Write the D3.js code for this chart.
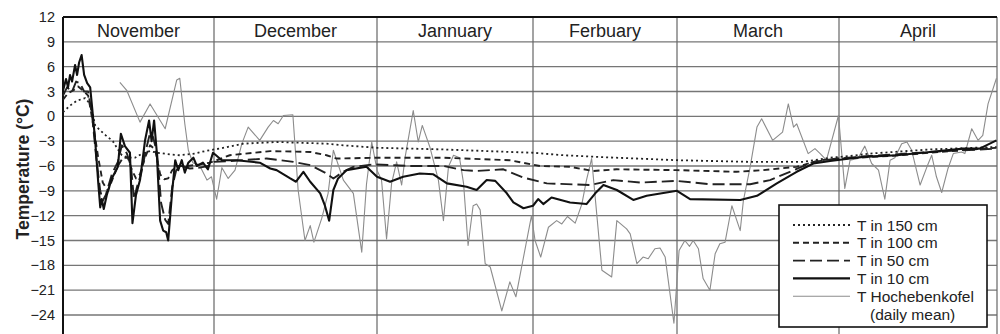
<!DOCTYPE html>
<html>
<head>
<meta charset="utf-8">
<script src="https://cdn.jsdelivr.net/npm/d3@7"></script>
<style>
  html, body { margin: 0; padding: 0; background: #fff; }
  svg { display: block; font-family: "Liberation Sans", Arial, sans-serif; }
</style>
</head>
<body>
<svg id="chart" width="1000" height="334"></svg>
<script>
// Months shown along the top, with the day offset (from 1 November) where each begins
const months = ["November", "December", "Jannuary", "Ferbuary", "March", "April"];
const monthStart = [0, 30, 61, 92, 120, 151, 181];
const yTicks = [12, 9, 6, 3, 0, -3, -6, -9, -12, -15, -18, -21, -24];

// Soil temperatures [day since 1 Nov, °C]
const t150 = [[0,0.5],[1.4,1.3],[2.8,1.9],[4.4,2.2],[5.4,1.5],[6.4,-1.1],[7.4,-1.7],[8.5,-2.3],[9.9,-3],[10.9,-4],[11.7,-4.7],[12.9,-5],[14.3,-5],[15.7,-4.5],[17.3,-4.2],[18.7,-4.4],[21.3,-4.6],[23.2,-4.7],[26.2,-4.5],[28.2,-4.2],[30.0,-4.0],
  [31.1,-3.9],[35.6,-3.3],[41.9,-3.1],[51.4,-3.3],[54.6,-3.5],[61.0,-3.8],[74.2,-4.0],[87.4,-4.3],[92.0,-4.4],[97.9,-4.7],[104.4,-4.9],[120,-5.3],[134.0,-5.5],[144.2,-5.5],[149.3,-5.0],[153.1,-4.8],[156.9,-4.5],[168.3,-4.0],[180.9,-3.7]];

const t100 = [[0,2.0],[1.0,2.8],[2.2,3.2],[3.0,3.6],[4.2,3.0],[5.0,2.5],[6.0,-1],[7.0,-5],[7.9,-8],[8.9,-9],[9.9,-7.5],[10.9,-6],[11.9,-5],[12.9,-5],[13.7,-6.5],[14.5,-7.5],[15.3,-7],[16.3,-5],[17.3,-3.5],[18.3,-4],[19.3,-7],[20.1,-7.6],[20.9,-7.5],[21.7,-6.5],[22.8,-6],[24.8,-6],[27.2,-5.8],[29.2,-5.6],
  [33.0,-4.7],[40.7,-4.2],[48.3,-4.3],[51.4,-4.7],[53.3,-5.1],[61.0,-5.0],[74.2,-5.0],[87.4,-5.3],[93.4,-6.0],[99.2,-6.1],[103.7,-6.6],[108.3,-6.4],[120,-6.5],[131.4,-6.7],[136.5,-6.5],[142.9,-6.1],[147.4,-5.3],[151.8,-5.1],[162.6,-4.7],[174.0,-4.1],[180.9,-3.8]];

const t50 = [[0,2.5],[0.8,3.5],[1.8,3.0],[2.6,4.2],[3.4,4.0],[4.2,3.0],[5.0,3.0],[5.8,0],[6.6,-5],[7.4,-9],[7.9,-10.2],[8.5,-9.5],[9.7,-7],[10.9,-5.5],[11.7,-3.5],[12.7,-4.5],[13.5,-6],[14.1,-10],[14.7,-8.5],[15.5,-7],[16.5,-4],[17.3,-2],[17.9,-2.5],[18.7,-4.5],[19.5,-10.5],[20.3,-12.5],[20.9,-13],[21.7,-8.5],[22.5,-6.5],[23.6,-6],[25.2,-6.3],[27.2,-6.2],[28.8,-6],[30.0,-5.5],
  [33.0,-5.4],[40.0,-5.1],[45.1,-5.5],[48.3,-5.9],[51.1,-6.8],[52.7,-7.5],[54.6,-6.7],[56.5,-6.1],[60.3,-5.8],[67.6,-6.0],[74.2,-6.0],[78.2,-6.5],[80.8,-6.6],[86.1,-6.4],[90.1,-7.4],[93.4,-7.9],[94.7,-8.1],[103.1,-8.3],[107.6,-7.7],[112.8,-8.0],[120,-7.8],[126.3,-8.2],[134.0,-8.2],[137.8,-7.7],[141.6,-6.7],[146.1,-5.5],[150.6,-5.1],[156.9,-4.8],[168.3,-4.3],[180.9,-3.9]];

const t10 = [[0,3.1],[0.6,4.5],[1.0,3.5],[1.4,5.0],[1.8,4.2],[2.4,6.2],[2.8,5.0],[3.2,6.5],[3.7,7.4],[4.2,5.0],[4.8,4.0],[5.4,3.5],[5.8,1.0],[6.4,-3],[7.0,-8],[7.4,-11],[7.7,-10],[8.1,-11.2],[8.7,-9.5],[9.7,-7.5],[10.9,-6.1],[11.5,-2.1],[12.3,-3.6],[13.3,-4.4],[13.8,-12.9],[14.5,-9.5],[15.3,-7.7],[16.3,-2.9],[17.1,-0.5],[17.6,-3],[18.1,-0.5],[18.6,-4.1],[19.3,-12.6],[19.9,-13.8],[20.5,-14],[20.9,-15],[21.7,-9],[22.3,-5.3],[22.9,-6.5],[23.6,-5.3],[24.2,-6.8],[24.9,-5.6],[25.9,-5.0],[26.6,-6],[27.8,-5.6],[28.8,-6.4],[29.8,-4.4],
  [31.5,-5.3],[34.3,-5.3],[38.7,-5.6],[40.7,-6.3],[41.9,-6.5],[44.5,-7.5],[45.6,-7.9],[47.0,-6.7],[48.3,-7.9],[50.2,-9.3],[51.1,-10.8],[51.9,-12.6],[52.7,-8.9],[53.6,-7.5],[55.2,-6.5],[59.0,-6.1],[61.0,-7.3],[63.6,-7.9],[66.2,-7.3],[69.5,-6.9],[72.2,-7.0],[74.9,-8.1],[78.8,-8.5],[80.8,-8.9],[82.8,-7.7],[84.5,-7.8],[86.8,-9.3],[88.1,-10.4],[90.1,-11.1],[92.0,-10.8],
  [93.0,-10],[94.0,-10.6],[95.6,-9.8],[99.2,-10.4],[102.4,-10.6],[104.1,-9.3],[105.7,-8.3],[108.3,-8.9],[111.5,-10.1],[114.1,-9.6],[120,-9],[122.5,-10],[132.1,-10.1],[135.3,-9.6],[139.1,-8.1],[142.9,-6.7],[146.1,-5.7],[149.3,-5.4],[153.1,-5.1],[155.6,-4.9],[162.0,-4.7],[168.3,-4.3],[174.6,-3.9],[177.7,-3.9],[180.9,-2.9]];

// Air temperature at Hochebenkofel, daily mean [day since 1 Nov, °C]
const tAir = [[11.3,4.1],[12.7,3.1],[15.3,-0.7],[17.3,1.5],[20.3,-1.5],[22.6,4.4],[23.2,4.6],[24.2,-0.9],[24.9,-4.1],[25.8,-5.6],[27.2,-6.0],[28.6,-7.7],[29.5,-7.3],
  [30.5,-10],[31.5,-6.2],[32.7,-7.5],[34.0,-6.5],[35.3,-3.3],[36.5,-1.3],[38.7,-2.9],[40.3,-1.3],[41.3,-0.5],[42.2,-0.9],[43.2,0.1],[45.0,0.2],[46.0,-8.9],[47.3,-15],[48.3,-13.2],[49.0,-15.2],[50.5,-12.3],[51.7,-9.3],[52.7,-4.1],[54.6,-7.7],[56.5,-9.3],[58.1,-16.4],[59.0,-8.2],[60.0,-3.1],
  [61.0,-6.5],[61.9,-7.7],[62.9,-14.8],[63.9,-8.1],[64.9,-5.5],[65.9,-8.3],[66.6,-4.9],[68.2,0.7],[69.2,-3.1],[70.0,-1.1],[71.5,-3.7],[73.2,-7.7],[74.2,-12.6],[75.2,-6.1],[76.2,-4.7],[77.4,-5],[78.2,-8.1],[79.1,-15.6],[80.1,-10.8],[80.8,-10.6],[81.5,-11.3],[82.5,-17.8],[83.5,-18.2],[85.8,-23.5],[87.4,-20],[88.6,-21.8],[91.7,-12],
  [92.4,-15],[93.5,-17],[95.0,-13.4],[96.6,-12.6],[97.6,-13],[98.7,-12.1],[100.2,-12.9],[101.5,-10.6],[102.4,-7.7],[103.4,-5.1],[105.4,-18.6],[107.3,-19.4],[108.3,-12.6],[110.2,-13.6],[110.9,-14.2],[112.2,-17.8],[113.4,-17],[114.4,-17.2],[115.7,-16],[116.7,-15.9],[117.7,-17],[119.4,-25],
  [120.4,-16.2],[121.5,-15],[122.4,-15.7],[123.1,-15],[124.1,-16],[125.0,-19.6],[126.3,-21],[127.3,-16.6],[128.2,-15.4],[129.2,-15.2],[130.5,-10.8],[132.1,-13.8],[132.7,-10.2],[134.0,-6.1],[135.3,-1.3],[136.2,-0.3],[138.3,-2.9],[140.2,-1.9],[141.3,1.5],[142.3,-1.3],[142.9,-0.9],[145.1,-4.5],[146.4,-3.9],[147.4,-4.5],[148.6,-5.3],[150.9,0.1],
  [152.1,-8.7],[153.1,-5.3],[154.6,-5.1],[155.9,-3.6],[157.2,-5.7],[158.5,-6.5],[159.7,-10],[160.7,-5.3],[161.6,-5.0],[162.9,-3.3],[163.9,-3.1],[164.8,-4.1],[166.4,-8.3],[167.7,-6.1],[168.6,-4.7],[169.5,-7.3],[170.5,-9.2],[171.7,-6.3],[172.7,-4.5],[174.3,-4.3],[174.9,-4.5],[176.2,-1.5],[177.4,-2.9],[178.3,-2.3],[179.3,1.5],[180.9,4.6]];

const seriesNames = ["T in 150 cm", "T in 100 cm", "T in 50 cm", "T in 10 cm", "T Hochebenkofel"];

// ---- layout ----
const svg = d3.select("#chart");
const plotLeft = 63, plotRight = 997, plotTop = 17;
const x = d3.scaleLinear()
  .domain(monthStart)
  .range([plotLeft, 214, 377, 533, 677, 839, plotRight]);
const y = d3.scaleLinear().domain([-24, 12]).range([315, plotTop]);
const yBottom = y(-27);

// horizontal grid
svg.append("g").selectAll("line")
  .data(yTicks.filter(v => v !== 12).concat([-27]))
  .join("line")
  .attr("x1", plotLeft).attr("x2", plotRight)
  .attr("y1", d => y(d)).attr("y2", d => y(d))
  .attr("stroke", "#767676").attr("stroke-width", 1.3);

// month dividers and right frame edge
svg.append("g").selectAll("line")
  .data(monthStart.slice(1))
  .join("line")
  .attr("x1", d => x(d)).attr("x2", d => x(d))
  .attr("y1", plotTop).attr("y2", yBottom)
  .attr("stroke", "#666").attr("stroke-width", 1.2);

// top border and left axis
svg.append("line").attr("x1", plotLeft).attr("x2", plotRight).attr("y1", plotTop).attr("y2", plotTop)
  .attr("stroke", "#111").attr("stroke-width", 2);
svg.append("line").attr("x1", plotLeft).attr("x2", plotLeft).attr("y1", plotTop).attr("y2", yBottom)
  .attr("stroke", "#111").attr("stroke-width", 2);

// y axis tick labels
const yAxis = d3.axisLeft(y).tickValues(yTicks).tickSize(0).tickPadding(8);
const ya = svg.append("g").attr("transform", `translate(${plotLeft},0)`).call(yAxis);
ya.select(".domain").remove();
ya.selectAll("text").attr("font-size", 14.5).attr("fill", "#222")
  .attr("font-family", "'Liberation Sans', Arial, sans-serif");

// y axis title
svg.append("text")
  .attr("transform", `translate(29,169) rotate(-90)`)
  .attr("text-anchor", "middle")
  .attr("font-size", 17.5).attr("font-weight", "bold").attr("fill", "#222")
  .text("Temperature (°C)");

// month labels
svg.append("g").selectAll("text")
  .data(months)
  .join("text")
  .attr("x", (d, i) => (x(monthStart[i]) + x(monthStart[i + 1])) / 2)
  .attr("y", 37)
  .attr("text-anchor", "middle")
  .attr("font-size", 18).attr("fill", "#222")
  .text(d => d);

// series
const line = d3.line().x(d => x(d[0])).y(d => y(d[1]));
const styles = [
  { data: t150, color: "#222", width: 1.8, dash: "2,3" },
  { data: t100, color: "#222", width: 1.9, dash: "6,4" },
  { data: t50,  color: "#222", width: 1.9, dash: "12,5" },
  { data: t10,  color: "#111", width: 2.1, dash: null },
  { data: tAir, color: "#8c8c8c", width: 1.1, dash: null }
];
const drawOrder = [4, 0, 1, 2, 3];
svg.append("g").selectAll("path")
  .data(drawOrder.map(i => styles[i]))
  .join("path")
  .attr("d", s => line(s.data))
  .attr("fill", "none")
  .attr("stroke", s => s.color)
  .attr("stroke-width", s => s.width)
  .attr("stroke-dasharray", s => s.dash)
  .attr("stroke-linejoin", "round");

// legend
const lg = svg.append("g");
lg.append("rect").attr("x", 779).attr("y", 205).attr("width", 208).attr("height", 122)
  .attr("fill", "#fff").attr("stroke", "#111").attr("stroke-width", 1.6);
const rows = lg.selectAll("g.row").data(styles).join("g").attr("class", "row")
  .attr("transform", (d, i) => `translate(0,${225 + i * 17.8})`);
rows.append("line").attr("x1", 793).attr("x2", 850).attr("y1", 0).attr("y2", 0)
  .attr("stroke", s => s.color).attr("stroke-width", s => s.width)
  .attr("stroke-dasharray", s => s.dash);
rows.append("text").attr("x", 857).attr("y", 5.5).attr("font-size", 15.5).attr("fill", "#222")
  .text((s, i) => seriesNames[i]);
lg.append("text").attr("x", 870).attr("y", 225 + 5 * 17.8 + 5.5).attr("font-size", 15.5).attr("fill", "#222")
  .text("(daily mean)");
</script>
</body>
</html>
